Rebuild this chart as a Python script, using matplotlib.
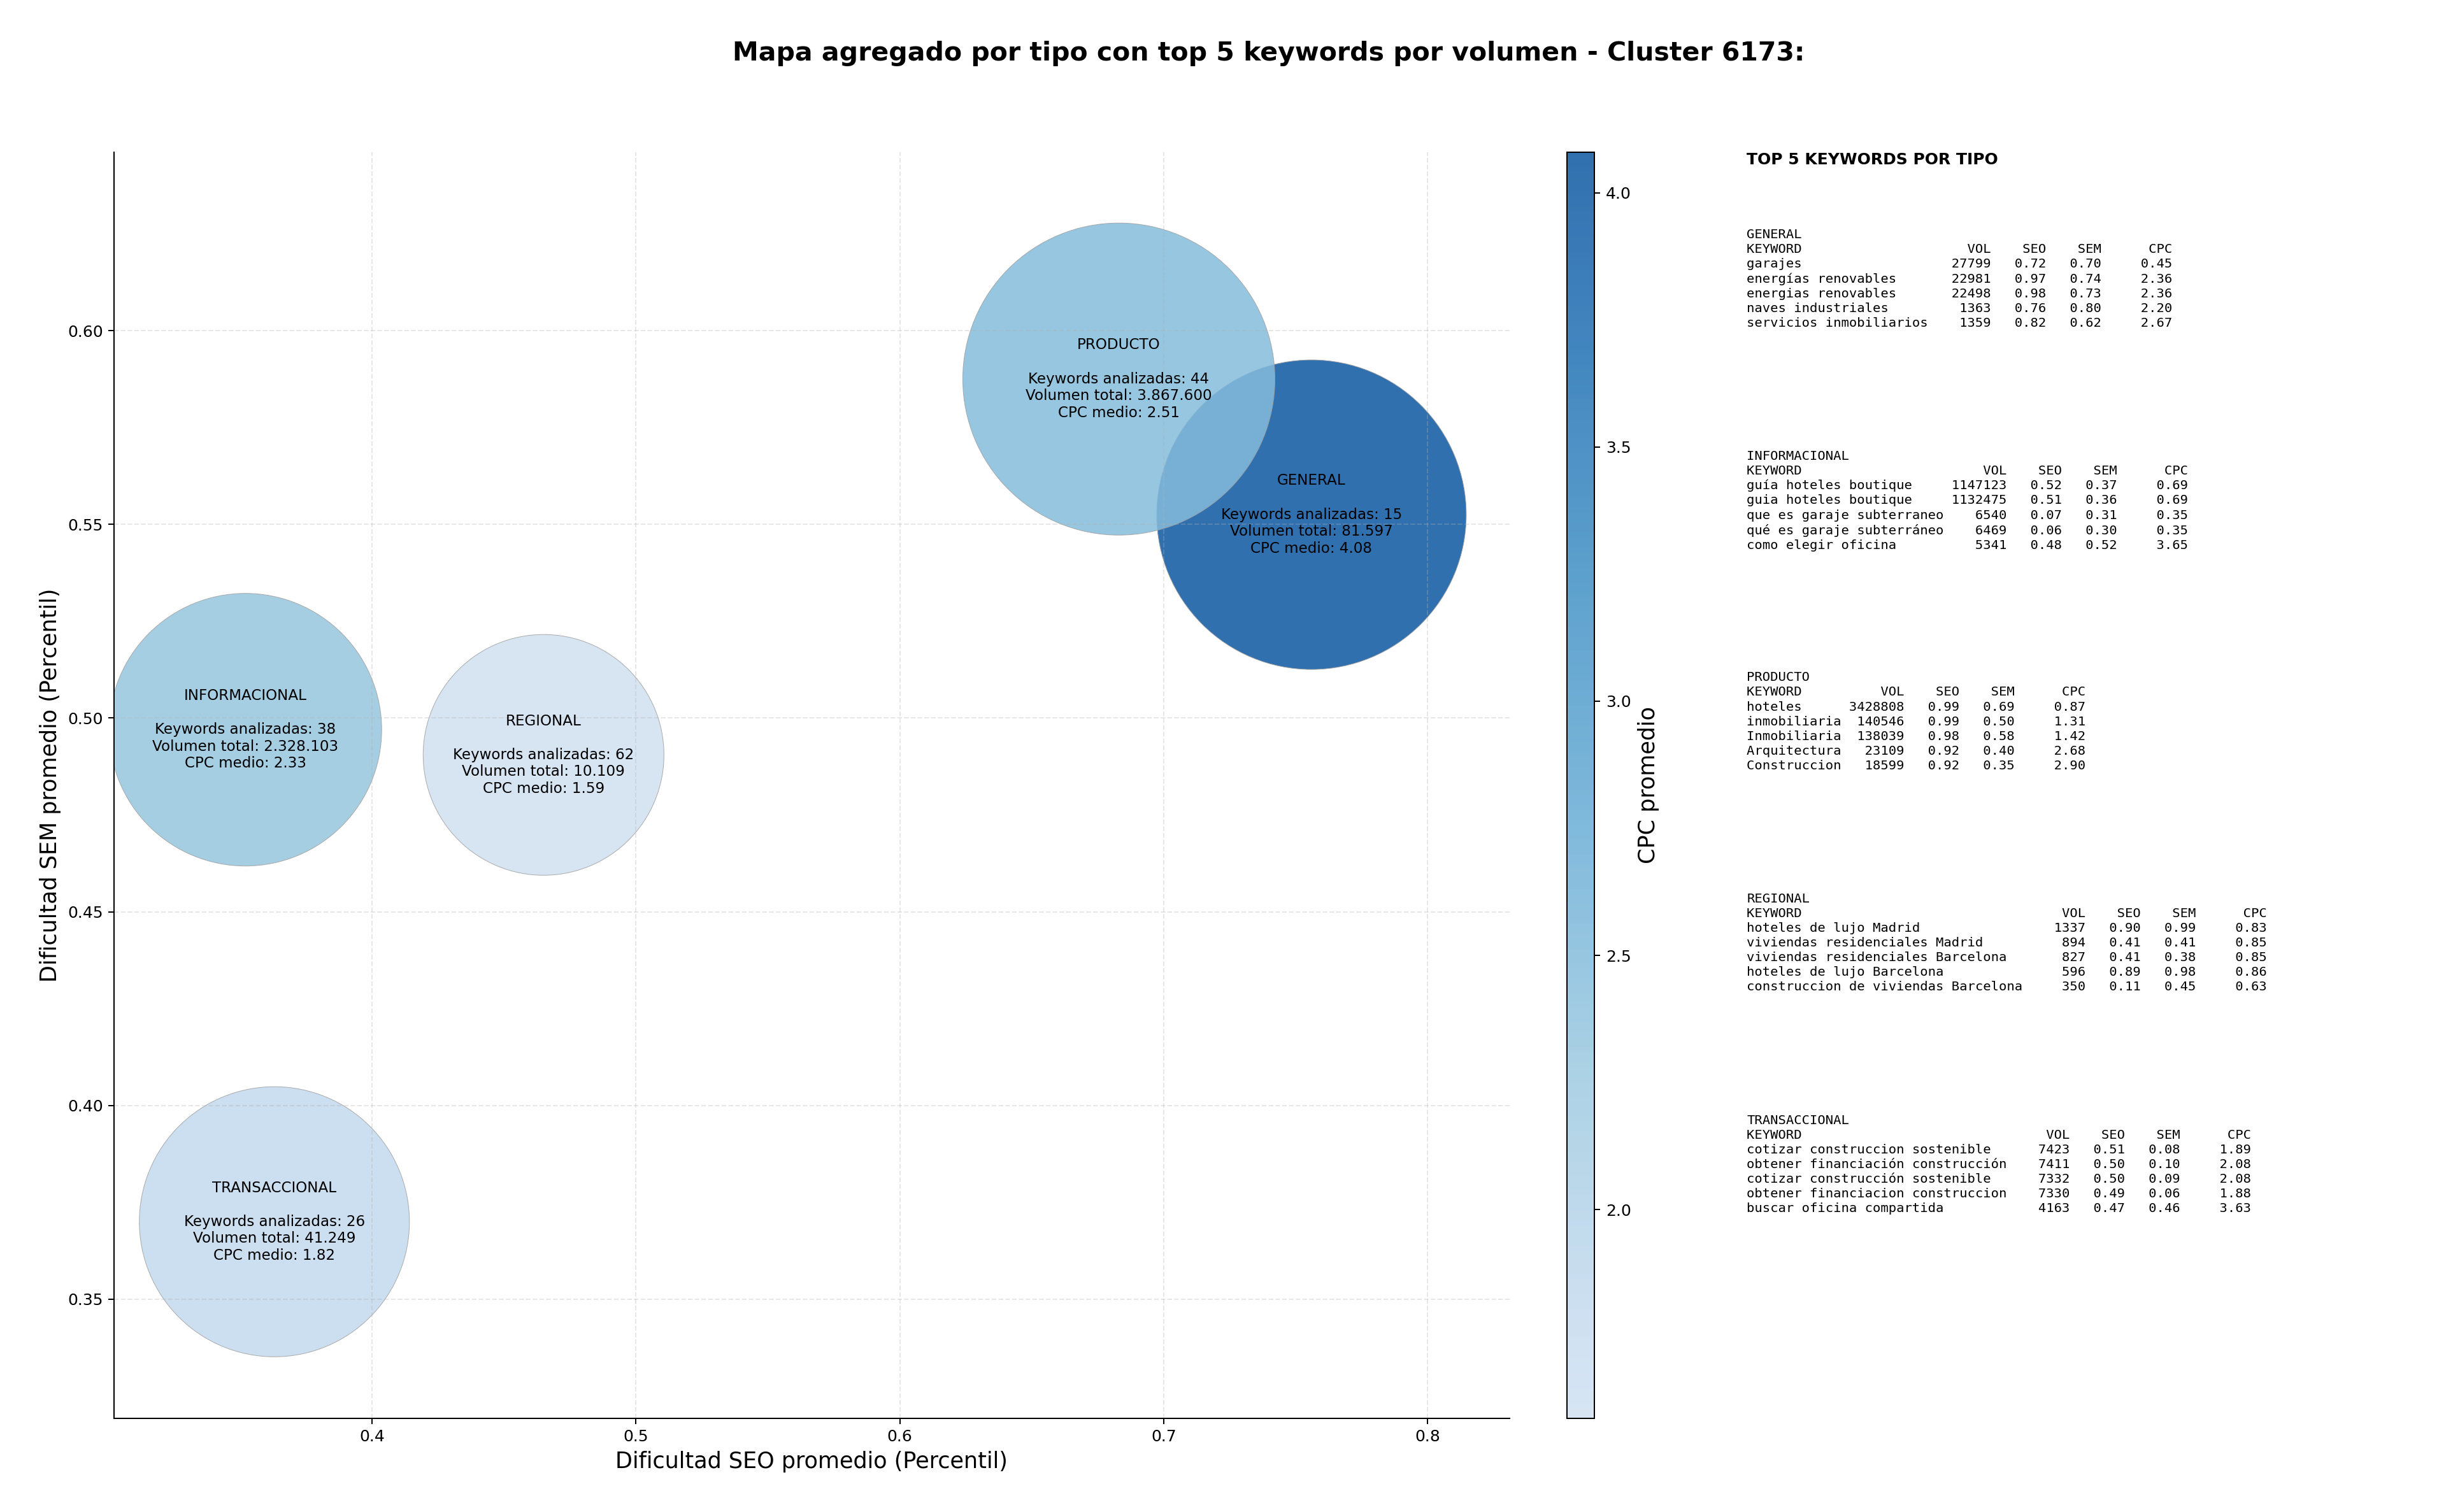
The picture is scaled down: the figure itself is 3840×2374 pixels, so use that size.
import matplotlib
matplotlib.use('Agg')
import matplotlib.pyplot as plt
import numpy as np
from matplotlib.colors import LinearSegmentedColormap, Normalize

# datos agregados por tipo
tipos = ['GENERAL', 'INFORMACIONAL', 'PRODUCTO', 'REGIONAL', 'TRANSACCIONAL']
seo_medio = [0.756, 0.352, 0.683, 0.465, 0.363]
sem_medio = [0.5525, 0.497, 0.5875, 0.4905, 0.370]
n_keywords = [15, 38, 44, 62, 26]
volumen_total = [81597, 2328103, 3867600, 10109, 41249]
cpc_medio = [4.08, 2.33, 2.51, 1.59, 1.82]
tamano_burbuja = [37791, 29309, 38416, 22861, 28764]

# top 5 keywords por tipo: (keyword, vol, seo, sem, cpc)
top_general = [
    ('garajes', 27799, 0.72, 0.70, 0.45),
    ('energías renovables', 22981, 0.97, 0.74, 2.36),
    ('energias renovables', 22498, 0.98, 0.73, 2.36),
    ('naves industriales', 1363, 0.76, 0.80, 2.20),
    ('servicios inmobiliarios', 1359, 0.82, 0.62, 2.67),
]
top_informacional = [
    ('guía hoteles boutique', 1147123, 0.52, 0.37, 0.69),
    ('guia hoteles boutique', 1132475, 0.51, 0.36, 0.69),
    ('que es garaje subterraneo', 6540, 0.07, 0.31, 0.35),
    ('qué es garaje subterráneo', 6469, 0.06, 0.30, 0.35),
    ('como elegir oficina', 5341, 0.48, 0.52, 3.65),
]
top_producto = [
    ('hoteles', 3428808, 0.99, 0.69, 0.87),
    ('inmobiliaria', 140546, 0.99, 0.50, 1.31),
    ('Inmobiliaria', 138039, 0.98, 0.58, 1.42),
    ('Arquitectura', 23109, 0.92, 0.40, 2.68),
    ('Construccion', 18599, 0.92, 0.35, 2.90),
]
top_regional = [
    ('hoteles de lujo Madrid', 1337, 0.90, 0.99, 0.83),
    ('viviendas residenciales Madrid', 894, 0.41, 0.41, 0.85),
    ('viviendas residenciales Barcelona', 827, 0.41, 0.38, 0.85),
    ('hoteles de lujo Barcelona', 596, 0.89, 0.98, 0.86),
    ('construccion de viviendas Barcelona', 350, 0.11, 0.45, 0.63),
]
top_transaccional = [
    ('cotizar construccion sostenible', 7423, 0.51, 0.08, 1.89),
    ('obtener financiación construcción', 7411, 0.50, 0.10, 2.08),
    ('cotizar construcción sostenible', 7332, 0.50, 0.09, 2.08),
    ('obtener financiacion construccion', 7330, 0.49, 0.06, 1.88),
    ('buscar oficina compartida', 4163, 0.47, 0.46, 3.63),
]
tops = [top_general, top_informacional, top_producto, top_regional, top_transaccional]

dpi = 180
fig = plt.figure(figsize=(3840 / dpi, 2374 / dpi), dpi=dpi)
ax = fig.add_axes([0.04669, 0.06205, 0.5704, 0.8374])
cax = fig.add_axes([0.6407, 0.06205, 0.0112, 0.8374])

cmap = LinearSegmentedColormap.from_list('blues_t', plt.cm.Blues(np.linspace(0.2, 0.85, 256)))
norm = Normalize(min(cpc_medio), max(cpc_medio))

sc = ax.scatter(seo_medio, sem_medio, s=tamano_burbuja, c=cpc_medio, cmap=cmap, norm=norm,
                alpha=0.85, edgecolors='#a0a0a0', linewidths=0.4)

for t, x, y, n, v, c in zip(tipos, seo_medio, sem_medio, n_keywords, volumen_total, cpc_medio):
    vol_txt = f"{v:,}".replace(',', '.')
    ax.text(x, y, f"{t}\n\nKeywords analizadas: {n}\nVolumen total: {vol_txt}\nCPC medio: {c:.2f}",
            ha='center', va='center', fontsize=9.2)

ax.set_xlim(0.3023, 0.8310)
ax.set_ylim(0.3193, 0.6461)
ax.set_xticks([0.4, 0.5, 0.6, 0.7, 0.8])
ax.set_yticks([0.35, 0.40, 0.45, 0.50, 0.55, 0.60])
ax.tick_params(labelsize=10)
ax.grid(True, linestyle='--', alpha=0.3)
ax.spines['top'].set_visible(False)
ax.spines['right'].set_visible(False)
ax.set_xlabel('Dificultad SEO promedio (Percentil)', fontsize=14)
ax.set_ylabel('Dificultad SEM promedio (Percentil)', fontsize=14)

cb = fig.colorbar(sc, cax=cax)
cb.set_label('CPC promedio', fontsize=14)
cb.ax.tick_params(labelsize=10)

fig.suptitle('Mapa agregado por tipo con top 5 keywords por volumen - Cluster 6173:',
             x=0.5187, y=0.973, fontsize=16.4, fontweight='bold', va='top')

# panel de texto con el top 5
fig.text(0.7141, 0.8993, 'TOP 5 KEYWORDS POR TIPO', fontsize=10, fontweight='bold', va='top', ha='left')
for i, (t, filas) in enumerate(zip(tipos, tops)):
    w = max(len(f[0]) for f in filas)
    lineas = [t, f"{'KEYWORD':<{w}}{'VOL':>8}{'SEO':>7}{'SEM':>7}{'CPC':>9}"]
    for k, v, s1, s2, c in filas:
        lineas.append(f"{k:<{w}}{v:>8}{s1:>7.2f}{s2:>7.2f}{c:>9.2f}")
    fig.text(0.7141, 0.8488 - i * 0.14648, '\n'.join(lineas), family='DejaVu Sans Mono',
             fontsize=8.2, va='top', ha='left', linespacing=1.27)

fig.savefig('out.png', dpi=dpi)
